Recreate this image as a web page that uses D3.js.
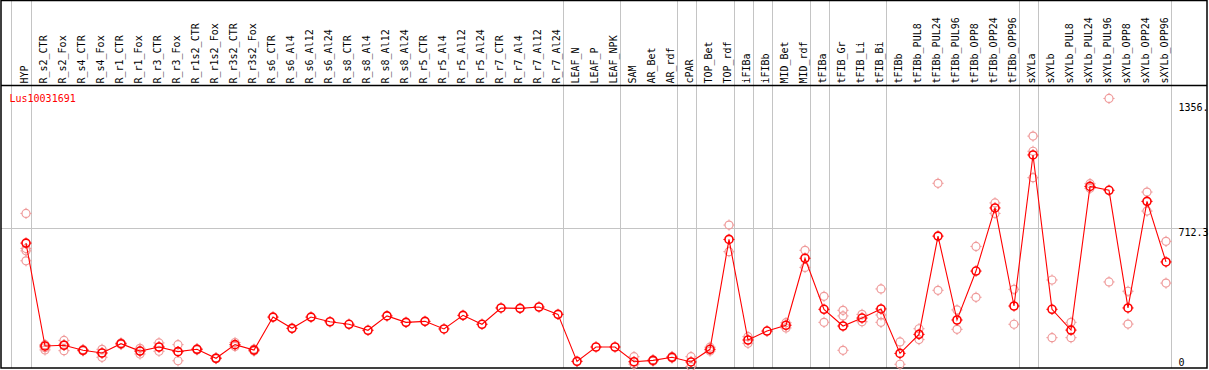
<!DOCTYPE html>
<html>
<head>
<meta charset="utf-8">
<script src="https://cdn.jsdelivr.net/npm/d3@7"></script>
<style>
  html, body { margin: 0; padding: 0; background: #fff; }
  svg { display: block; }
  text { font-family: "DejaVu Sans Mono", "Liberation Mono", monospace; font-size: 10px; }
</style>
</head>
<body>
<svg id="chart" width="1209" height="370"></svg>
<script>
const title = "Lus10031691";

const categories = ["HYP","R_s2_CTR","R_s2_Fox","R_s4_CTR","R_s4_Fox","R_r1_CTR","R_r1_Fox","R_r3_CTR","R_r3_Fox",
  "R_r1s2_CTR","R_r1s2_Fox","R_r3s2_CTR","R_r3s2_Fox","R_s6_CTR","R_s6_Al4","R_s6_Al12","R_s6_Al24",
  "R_s8_CTR","R_s8_Al4","R_s8_Al12","R_s8_Al24","R_r5_CTR","R_r5_Al4","R_r5_Al12","R_r5_Al24",
  "R_r7_CTR","R_r7_Al4","R_r7_Al12","R_r7_Al24","LEAF_N","LEAF_P","LEAF_NPK","SAM","AR_Bet","AR_rdf",
  "cPAR","TOP_Bet","TOP_rdf","iFIBa","iFIBb","MID_Bet","MID_rdf","tFIBa","tFIB_Gr","tFIB_Li","tFIB_Bi",
  "tFIBb","tFIBb_PUL8","tFIBb_PUL24","tFIBb_PUL96","tFIBb_OPP8","tFIBb_OPP24","tFIBb_OPP96",
  "sXYLa","sXYLb","sXYLb_PUL8","sXYLb_PUL24","sXYLb_PUL96","sXYLb_OPP8","sXYLb_OPP24","sXYLb_OPP96"];

// number of columns in each tissue group (separated by grey lines)
const groupSizes = [1, 28, 3, 3, 1, 2, 1, 1, 2, 1, 3, 7, 1, 7];

const means = [636,106,110,84,70,118,80,101,77,89,43,113,85,255,197,255,231,218,187,261,228,233,194,264,218,
  302,300,307,269,27,101,101,25,32,48,24,89,655,137,183,213,558,295,209,250,297,
  68,166,672,240,492,817,312,1090,295,188,928,908,302,851,539];

const replicates = [[789,608,596,545],[113,97,86],[135,112,82],[88,81],[89,70,48],[122,114],[94,80,65],[122,101,79],[113,77,30],
  [92,86],[45,41],[124,104],[90,80],[],[],[],[],[],[],[],[],[],[],[],[],
  [],[],[],[],[],[],[],[51,12],[35,28],[52,44],[51,0],[100,80],[729,592],[154,120],[],[226,199],[599,511],
  [362,228],[290,261,84],[269,231],[400,266,228],
  [127,12],[195,139],[944,393],[292,192],[619,357],[843,789],[398,218],
  [1187,1109,973],[446,149],[228,149],[942,918],[1381,436],[388,219],[899,801],[645,430]];

const axisTicks = [1356, 712.3, 0];
const axisTickLabels = ["1356.", "712.3", "0"];
const midLine = 712.3;

const svg = d3.select("#chart");
const frameL = 1, frameR = 1207, frameT = 0.5, headerY = 85, frameB = 368;

const x = d3.scalePoint().domain(categories).range([26, 1166]);
const y = d3.scaleLinear().domain([0, 1356]).range([366.6, 103.3]);

const grey = "#c4c4c4";
const red = "#ff0000";
const pink = "#ef9a9a";

// group separators
const seps = [x(categories[0]) - 15];
let acc = 0;
groupSizes.forEach(n => { acc += n; seps.push(x(categories[acc - 1]) + 4.5); });

svg.append("g").selectAll("line").data(seps).join("line")
  .attr("x1", d => Math.round(d) + 0.5).attr("x2", d => Math.round(d) + 0.5)
  .attr("y1", frameT).attr("y2", frameB)
  .attr("stroke", grey).attr("stroke-width", 1);

// mid grid line
svg.append("line")
  .attr("x1", frameL).attr("x2", frameR)
  .attr("y1", Math.round(y(midLine)) + 0.5).attr("y2", Math.round(y(midLine)) + 0.5)
  .attr("stroke", grey).attr("stroke-width", 1);

// header separator
svg.append("line")
  .attr("x1", frameL).attr("x2", frameR)
  .attr("y1", headerY + 0.5).attr("y2", headerY + 0.5)
  .attr("stroke", "#000").attr("stroke-width", 1.5);

// frame
svg.append("rect")
  .attr("x", frameL).attr("y", frameT).attr("width", frameR - frameL).attr("height", frameB - frameT)
  .attr("fill", "none").attr("stroke", "#000").attr("stroke-width", 1.5);

// column labels
svg.append("g").selectAll("text").data(categories).join("text")
  .attr("transform", d => `translate(${x(d) + 1.8},${headerY - 1.5}) rotate(-90)`)
  .attr("text-anchor", "start")
  .attr("fill", "#000")
  .text(d => d);

// right axis labels
svg.append("g").selectAll("text").data(axisTicks).join("text")
  .attr("x", 1178.5)
  .attr("y", d => Math.min(y(d) + 7.7, 366))
  .attr("fill", "#000")
  .text((d, i) => axisTickLabels[i]);

// title
svg.append("text").attr("x", 9.5).attr("y", 101.5).attr("fill", red).text(title);

function marker(g, cx, cy, color, sw) {
  g.append("circle").attr("cx", cx).attr("cy", cy).attr("r", 4)
    .attr("fill", "none").attr("stroke", color).attr("stroke-width", sw);
  const r = 4, t = 1.6;
  g.append("path")
    .attr("d", `M${cx},${cy - r - t}V${cy - r}M${cx},${cy + r}V${cy + r + t}M${cx - r - t},${cy}H${cx - r}M${cx + r},${cy}H${cx + r + t}`)
    .attr("stroke", color).attr("stroke-width", 1);
}

// replicate points
const repG = svg.append("g");
categories.forEach((c, i) => {
  replicates[i].forEach(v => marker(repG, x(c), y(v), pink, 1.2));
});

// mean line
svg.append("path")
  .datum(means)
  .attr("d", d3.line().x((d, i) => x(categories[i])).y(d => y(d)))
  .attr("fill", "none").attr("stroke", red).attr("stroke-width", 1.1);

// mean markers
const meanG = svg.append("g");
means.forEach((v, i) => marker(meanG, x(categories[i]), y(v), red, 1.6));
</script>
</body>
</html>
